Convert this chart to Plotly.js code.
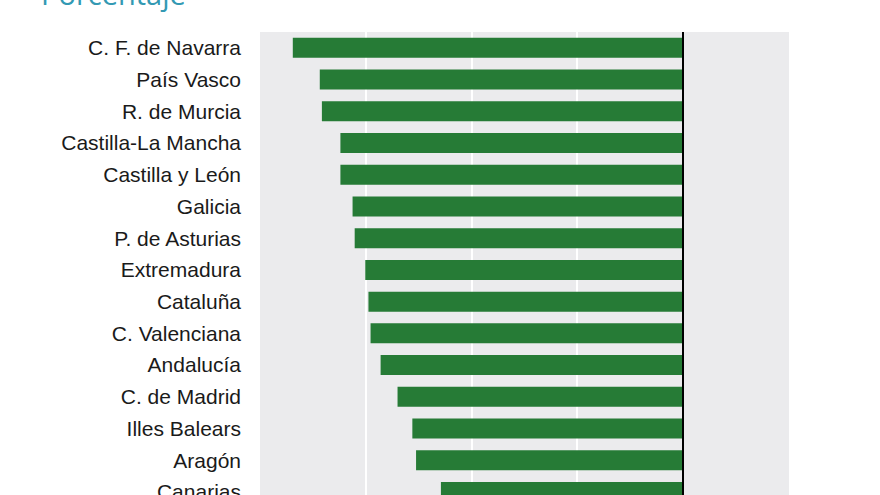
<!DOCTYPE html>
<html>
<head>
<meta charset="utf-8">
<script src="https://cdn.plot.ly/plotly-3.0.1.min.js"></script>
<style>
  html, body { margin: 0; padding: 0; overflow: hidden; background: #ffffff; width: 880px; height: 495px; }
  #chart { position: absolute; left: 0; top: -22px; width: 880px; height: 720px; }
</style>
</head>
<body>
<div id="chart"></div>
<script>
const regions = [
  "C. F. de Navarra", "País Vasco", "R. de Murcia", "Castilla-La Mancha",
  "Castilla y León", "Galicia", "P. de Asturias", "Extremadura", "Cataluña",
  "C. Valenciana", "Andalucía", "C. de Madrid", "Illes Balears", "Aragón", "Canarias"
];
const values = [
  -7.38, -6.87, -6.83, -6.48, -6.48, -6.25, -6.21, -6.01, -5.95,
  -5.91, -5.72, -5.40, -5.12, -5.05, -4.58
];
const xTicks = [-8, -6, -4, -2, 0, 2];
const chartTitle = "Porcentaje";

const trace = {
  type: "bar",
  orientation: "h",
  x: values,
  y: regions,
  marker: { color: "#267b36", line: { width: 0 } },
  hoverinfo: "x+y"
};

const layout = {
  width: 880,
  height: 720,
  margin: { l: 260, r: 91, t: 54, b: 95, pad: 0 },
  paper_bgcolor: "#ffffff",
  plot_bgcolor: "#ebebed",
  bargap: 0.37,
  showlegend: false,
  font: { family: "Liberation Sans, Arial, sans-serif", color: "#1a1a1a" },
  title: {
    text: chartTitle,
    font: { family: "Open Sans, sans-serif", size: 29, color: "#3399b3" },
    x: 41 / 880, xanchor: "left", xref: "container",
    y: 1 - 7 / 720, yanchor: "top", yref: "container",
    pad: { t: 0, b: 0, l: 0, r: 0 }
  },
  xaxis: {
    range: [-8, 2],
    tickvals: xTicks,
    showgrid: true,
    gridcolor: "#ffffff",
    gridwidth: 2,
    zeroline: true,
    zerolinecolor: "#000000",
    zerolinewidth: 1.5,
    zerolinelayer: "above traces",
    showline: false,
    ticks: "",
    showticklabels: false,
    fixedrange: true
  },
  yaxis: {
    type: "category",
    range: [17.5, -0.5],
    showgrid: false,
    zeroline: false,
    showline: false,
    ticks: "",
    ticklabelstandoff: 18,
    tickfont: { family: "Liberation Sans, Arial, sans-serif", size: 21, color: "#1a1a1a" },
    fixedrange: true
  }
};

Plotly.newPlot("chart", [trace], layout, { displayModeBar: false, staticPlot: true });
</script>
</body>
</html>
